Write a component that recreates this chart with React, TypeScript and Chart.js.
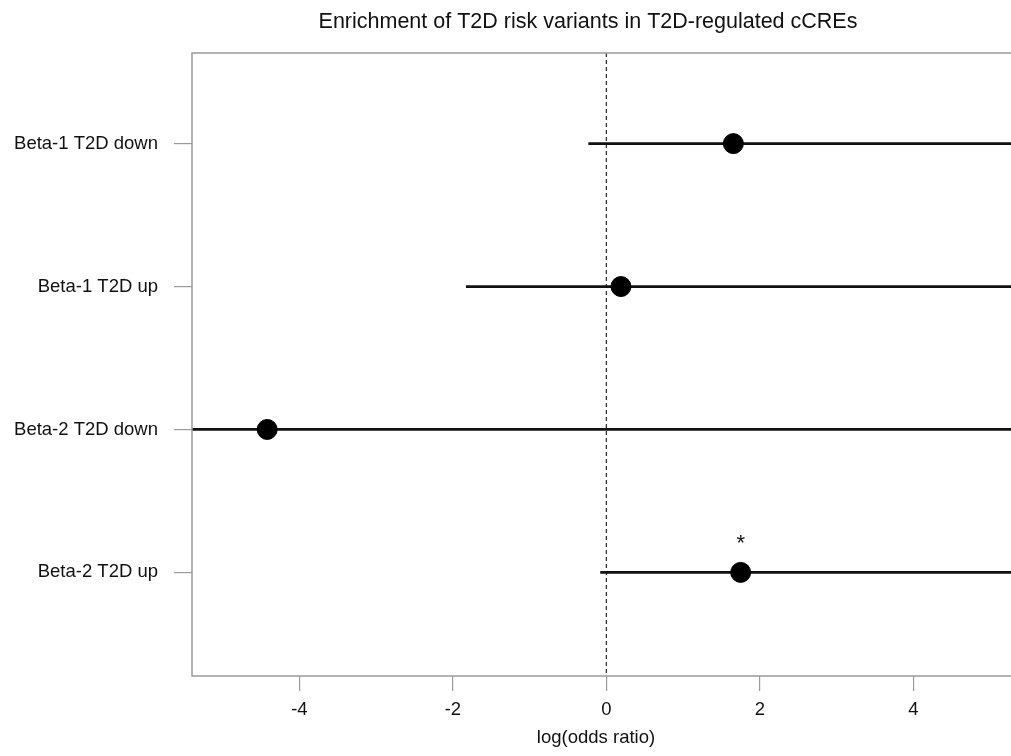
import React, { useEffect, useRef } from "react";
import { Chart, registerables } from "chart.js";

Chart.register(...registerables);

const categories = ["Beta-2 T2D up", "Beta-2 T2D down", "Beta-1 T2D up", "Beta-1 T2D down"];
const rowPositions = [1, 2, 3, 4];
const logOddsRatio = [1.75, -4.42, 0.19, 1.655];
const ciLower = [-0.08, -5.7, -1.83, -0.235];
const ciUpper = [5.6, 5.6, 5.6, 5.6];
const significant = [true, false, false, false];
const xTickValues = [-4, -2, 0, 2, 4];

const TITLE = "Enrichment of T2D risk variants in T2D-regulated cCREs";
const X_LABEL = "log(odds ratio)";
const FONT = "'Liberation Sans', Arial, Helvetica, sans-serif";
const GRAY = "#9a9a9a";

const decorPlugin = {
  id: "decor",
  beforeDatasetsDraw(chart: any) {
    const { ctx, chartArea, scales } = chart;
    const x0 = scales.x.getPixelForValue(0);
    ctx.save();
    ctx.strokeStyle = "#333";
    ctx.lineWidth = 1.3;
    ctx.setLineDash([4, 3]);
    ctx.beginPath();
    ctx.moveTo(x0, chartArea.top);
    ctx.lineTo(x0, chartArea.bottom);
    ctx.stroke();
    ctx.restore();
  },
  afterDraw(chart: any) {
    const { ctx, chartArea, scales } = chart;
    ctx.save();
    ctx.strokeStyle = GRAY;
    ctx.lineWidth = 1.5;
    ctx.beginPath();
    ctx.moveTo(chartArea.right + 2, chartArea.top);
    ctx.lineTo(chartArea.left, chartArea.top);
    ctx.lineTo(chartArea.left, chartArea.bottom);
    ctx.lineTo(chartArea.right + 2, chartArea.bottom);
    ctx.stroke();

    ctx.fillStyle = "#111";
    ctx.font = `22px ${FONT}`;
    ctx.textAlign = "center";
    ctx.textBaseline = "middle";
    significant.forEach((s, i) => {
      if (!s) return;
      const px = scales.x.getPixelForValue(logOddsRatio[i]);
      const py = scales.y.getPixelForValue(rowPositions[i]);
      ctx.fillText("*", px, py - 28);
    });

    ctx.font = `21.5px ${FONT}`;
    ctx.fillText(TITLE, 588, 22);
    ctx.font = `18.5px ${FONT}`;
    ctx.fillText(X_LABEL, 596, 738);
    ctx.restore();
  },
};

export default function App() {
  const ref = useRef<HTMLCanvasElement>(null);
  useEffect(() => {
    if (!ref.current) return;
    const ciDatasets = categories.map((c, i) => ({
      type: "line" as const,
      label: c + " CI",
      data: [
        { x: ciLower[i], y: rowPositions[i] },
        { x: ciUpper[i], y: rowPositions[i] },
      ],
      borderColor: "#111",
      borderWidth: 2.7,
      pointRadius: 0,
      showLine: true,
      order: 2,
    }));
    const chart = new Chart(ref.current, {
      type: "scatter",
      data: {
        datasets: [
          {
            type: "scatter",
            label: "log(odds ratio)",
            data: logOddsRatio.map((v, i) => ({ x: v, y: rowPositions[i] })),
            backgroundColor: "#000",
            borderColor: "#000",
            pointRadius: 10,
            order: 1,
          } as any,
          ...ciDatasets,
        ],
      },
      options: {
        animation: false,
        responsive: false,
        layout: { autoPadding: false, padding: { top: 53, left: 0, right: 0, bottom: 0 } },
        plugins: {
          legend: { display: false },
          tooltip: { enabled: false },
          title: { display: false },
        },
        scales: {
          x: {
            type: "linear",
            min: -5.4,
            max: 5.273,
            afterBuildTicks: (s: any) => {
              s.ticks = xTickValues.map((v) => ({ value: v }));
            },
            afterFit: (s: any) => {
              s.height = 80;
              s.paddingLeft = 0;
              s.paddingRight = 0;
            },
            grid: {
              drawOnChartArea: false,
              drawTicks: true,
              tickLength: 15,
              color: GRAY,
              lineWidth: 1.2,
            },
            border: { display: false },
            ticks: {
              color: "#111",
              font: { family: FONT, size: 18.5 },
              padding: 8,
              maxRotation: 0,
            },
          },
          y: {
            type: "linear",
            min: 0.275,
            max: 4.634,
            afterBuildTicks: (s: any) => {
              s.ticks = rowPositions.map((v) => ({ value: v }));
            },
            afterFit: (s: any) => {
              s.width = 192;
              s.paddingTop = 0;
              s.paddingBottom = 0;
            },
            grid: {
              drawOnChartArea: false,
              drawTicks: true,
              tickLength: 18,
              color: GRAY,
              lineWidth: 1.2,
            },
            border: { display: false },
            ticks: {
              color: "#111",
              font: { family: FONT, size: 18.5 },
              padding: 16,
              callback: (v: any) => {
                const idx = rowPositions.indexOf(Number(v));
                return idx >= 0 ? categories[idx] : "";
              },
            },
          },
        },
      },
      plugins: [decorPlugin],
    });
    return () => chart.destroy();
  }, []);

  return (
    <div style={{ position: "fixed", left: 0, top: 0, width: 1011, height: 756, background: "#fff" }}>
      <canvas ref={ref} width={1011} height={756} style={{ display: "block" }} />
    </div>
  );
}
